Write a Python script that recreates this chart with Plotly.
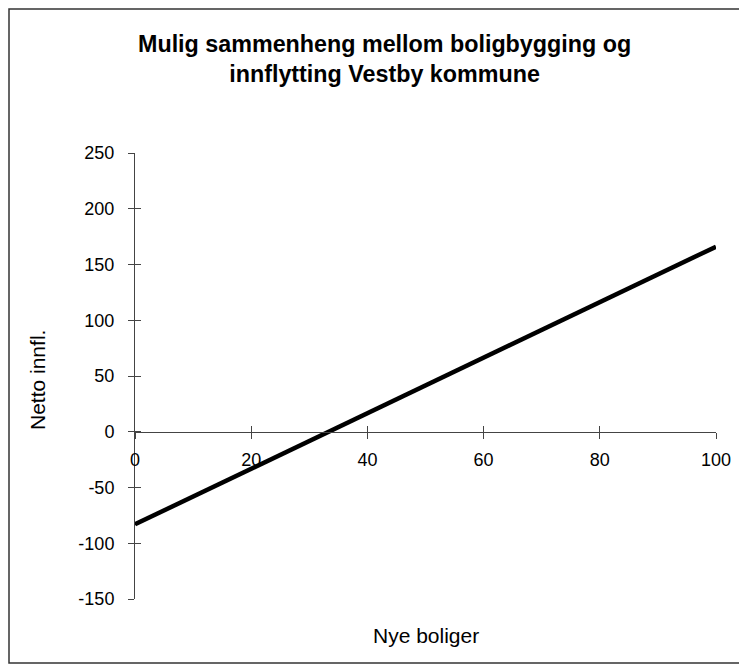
import plotly.graph_objects as go

# Data
nye_boliger = [0, 100]
netto_innfl = [-83, 166]

x_ticks = [0, 20, 40, 60, 80, 100]
y_ticks = [-150, -100, -50, 0, 50, 100, 150, 200, 250]
y_tick_labels = ["-150", "-100", "-50", "0", "50", "100", "150", "200", "250"]

title_text = "Mulig sammenheng mellom boligbygging og<br>innflytting Vestby kommune"
x_title = "Nye boliger"
y_title = "Netto innfl."

FONT = "Arial, Liberation Sans, sans-serif"
AXC = "#444444"

fig = go.Figure()
fig.add_trace(go.Scatter(x=nye_boliger, y=netto_innfl, mode="lines",
                         line=dict(color="black", width=4.5),
                         showlegend=False, hoverinfo="skip"))
# invisible trace to make overlay axes render
fig.add_trace(go.Scatter(x=nye_boliger, y=netto_innfl, mode="lines",
                         line=dict(color="rgba(0,0,0,0)", width=0),
                         xaxis="x2", yaxis="y2",
                         showlegend=False, hoverinfo="skip"))

ypos = (0 - y_ticks[0]) / (y_ticks[-1] - y_ticks[0])

common = dict(showgrid=False, zeroline=False, ticklen=6, tickwidth=1,
              tickcolor=AXC, linecolor=AXC, linewidth=1,
              tickfont=dict(family=FONT, size=18, color="black"))

# the page body adds an 8px offset; reference pixel p -> figure pixel p-8
OFF = 8
L, T, PW, PH = 135 - OFF, 153 - OFF, 581, 446
W, H = 747 - OFF, 672 - 2 * OFF


def px(p):
    return (p - OFF - L) / PW


def py(p):
    return (T + PH - (p - OFF)) / PH


fig.update_layout(
    width=W, height=H,
    margin=dict(l=L, r=W - L - PW, t=T, b=H - T - PH),
    paper_bgcolor="white", plot_bgcolor="white",
    font=dict(family=FONT, color="black"),
    xaxis=dict(range=[0, 100], tickvals=x_ticks, ticks="outside",
               showline=True, anchor="free", position=ypos,
               ticklabelstandoff=6, **common),
    xaxis2=dict(range=[0, 100], tickvals=x_ticks, ticks="inside",
                showline=False, showticklabels=False, overlaying="x",
                anchor="free", position=ypos, **common),
    yaxis=dict(range=[-150, 250], tickvals=y_ticks, ticktext=y_tick_labels,
               ticks="outside", showline=True, ticklabelstandoff=10, **common),
    yaxis2=dict(range=[-150, 250], tickvals=y_ticks, ticks="inside",
                showline=False, showticklabels=False, overlaying="y",
                anchor="x", side="left", **common),
    annotations=[
        dict(text="<b>" + title_text.replace("<br>", "</b><br><b>") + "</b>",
             xref="paper", yref="paper", x=px(384.5),
             y=py(29), xanchor="center", yanchor="top",
             showarrow=False, font=dict(family=FONT, size=23.3, color="black")),
        dict(text=x_title, xref="paper", yref="paper", x=0.5,
             y=py(635), xanchor="center", yanchor="middle",
             showarrow=False, font=dict(family=FONT, size=21, color="black")),
        dict(text=y_title, xref="paper", yref="paper", x=px(37),
             y=py(380), xanchor="center", yanchor="middle", textangle=-90,
             showarrow=False, font=dict(family=FONT, size=21, color="black")),
    ],
    shapes=[
        dict(type="rect", xref="paper", yref="paper",
             x0=px(9), x1=px(742), y0=py(663), y1=py(9),
             line=dict(color="#333333", width=1.5), fillcolor="rgba(0,0,0,0)"),
    ],
)

fig.write_html("out.html")
